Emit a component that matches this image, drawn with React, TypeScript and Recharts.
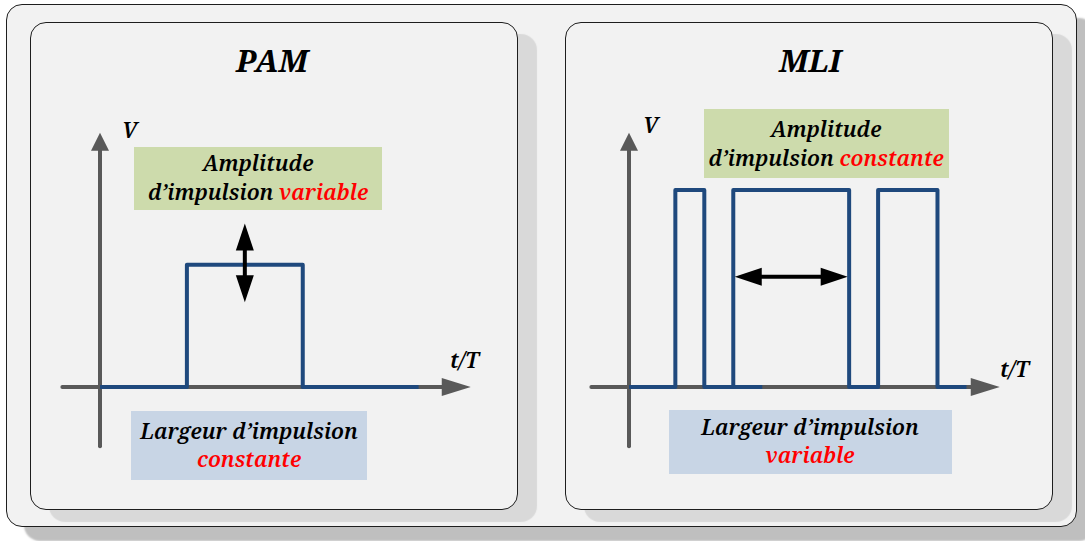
import React from "react"
import { LineChart, Line, XAxis, YAxis, ReferenceLine } from "recharts"

// PAM : une seule impulsion, amplitude variable
const pamEdges = [0, 0.3, 0.7, 1.1]
const pamLevels = [0, 0.62, 0, 0]

// MLI : trois impulsions, amplitude constante, largeur variable
const mliEdges = [0, 0.16, 0.26, 0.36, 0.76, 0.86, 1.065, 1.165]
const mliLevels = [0, 1, 0, 1, 0, 1, 0, 0]
// petit bout de ligne qui dépasse sur l'axe dans le dessin d'origine
const mliOverlapEdges = [0.26, 0.46]
const mliOverlapLevels = [0, 0]

const tDomain = [-0.145, 1.305]
const vDomain = [-0.35, 1.35]
const tAxisEnds = [-0.13, 1.28]
const vAxisEnds = [-0.3, 1.29]

// flèches noires (amplitude / largeur)
const pamArrowT = 0.5
const pamArrowV = [0.43, 0.83]
const mliArrowV = 0.56
const mliArrowT = [0.365, 0.755]

const BLUE = "#1F497D"
const GREY = "#595959"
const RED = "#FF0000"
const FONT = "'Noto Serif', 'DejaVu Serif', serif"
const LABEL = 21.5

const toRows = (ts: number[], vs: number[]) => ts.map((t, i) => ({ t, v: vs[i] }))

function arrowShape(color: string, width: number, len: number, half: number, both: boolean) {
  return (p: any) => {
    const { x1, y1, x2, y2 } = p
    const L = Math.hypot(x2 - x1, y2 - y1) || 1
    const ux = (x2 - x1) / L
    const uy = (y2 - y1) / L
    const head = (tx: number, ty: number, dx: number, dy: number) => {
      const bx = tx - dx * len
      const by = ty - dy * len
      return `${tx},${ty} ${bx - dy * half},${by + dx * half} ${bx + dy * half},${by - dx * half}`
    }
    const sx = both ? x1 + ux * (len - 1) : x1
    const sy = both ? y1 + uy * (len - 1) : y1
    return (
      <g>
        <line
          x1={sx}
          y1={sy}
          x2={x2 - ux * (len - 1)}
          y2={y2 - uy * (len - 1)}
          stroke={color}
          strokeWidth={width}
          strokeLinecap={both ? "butt" : "round"}
        />
        <polygon points={head(x2, y2, ux, uy)} fill={color} />
        {both && <polygon points={head(x1, y1, -ux, -uy)} fill={color} />}
      </g>
    )
  }
}

const xAxisShape = arrowShape(GREY, 4, 29, 9, false)
const yAxisShape = arrowShape(GREY, 4, 18, 9, false)
const blackArrow = arrowShape("#000", 4, 27, 9, true)

function PulsePlot({ left, kind }: { left: number; kind: "pam" | "mli" }) {
  const main = kind === "pam" ? toRows(pamEdges, pamLevels) : toRows(mliEdges, mliLevels)
  return (
    <div style={{ position: "absolute", left, top: 121 }}>
      <LineChart width={420} height={335} margin={{ top: 0, right: 0, bottom: 0, left: 0 }}>
        <XAxis type="number" dataKey="t" domain={tDomain} hide allowDataOverflow />
        <YAxis type="number" dataKey="v" domain={vDomain} hide allowDataOverflow />
        <ReferenceLine
          segment={[{ x: tAxisEnds[0], y: 0 }, { x: tAxisEnds[1], y: 0 }]}
          shape={xAxisShape}
        />
        <ReferenceLine
          segment={[{ x: 0, y: vAxisEnds[0] }, { x: 0, y: vAxisEnds[1] }]}
          shape={yAxisShape}
        />
        {kind === "mli" && (
          <Line
            data={toRows(mliOverlapEdges, mliOverlapLevels)}
            dataKey="v"
            type="linear"
            stroke={BLUE}
            strokeWidth={4}
            dot={false}
            isAnimationActive={false}
          />
        )}
        <Line
          data={main}
          dataKey="v"
          type="stepAfter"
          stroke={BLUE}
          strokeWidth={4}
          strokeLinejoin="round"
          dot={false}
          isAnimationActive={false}
        />
        {kind === "pam" ? (
          <ReferenceLine
            segment={[{ x: pamArrowT, y: pamArrowV[0] }, { x: pamArrowT, y: pamArrowV[1] }]}
            shape={blackArrow}
          />
        ) : (
          <ReferenceLine
            segment={[{ x: mliArrowT[0], y: mliArrowV }, { x: mliArrowT[1], y: mliArrowV }]}
            shape={blackArrow}
          />
        )}
      </LineChart>
    </div>
  )
}

const panelStyle = (left: number): React.CSSProperties => ({
  position: "absolute",
  left,
  top: 22,
  width: 488,
  height: 488,
  boxSizing: "border-box",
  border: "1.5px solid #1e1e1e",
  borderRadius: 16,
  background: "#F2F2F2",
  boxShadow: "19px 12px 1px #D9D9D9",
})

export default function App() {
  return (
    <div style={{ position: "absolute", left: 0, top: 0, width: 1085, height: 541, overflow: "hidden" }}>
      <div
        style={{
          position: "absolute",
          left: 6,
          top: 4,
          width: 1071,
          height: 523,
          boxSizing: "border-box",
          border: "1.5px solid #1e1e1e",
          borderRadius: 16,
          background: "#F2F2F2",
          boxShadow: "18px 14px 2px #BFBFBF",
        }}
      />
      <div style={panelStyle(30)} />
      <div style={panelStyle(565)} />

      <svg
        width={1085}
        height={541}
        style={{ position: "absolute", left: 0, top: 0, fontFamily: FONT, fontStyle: "italic", fontWeight: 600 }}
      >
        <rect x={134} y={147} width={248} height={63} fill="#CDDBAC" />
        <rect x={131} y={411} width={236} height={69} fill="#C8D5E5" />
        <rect x={704} y={109} width={245} height={69} fill="#CDDBAC" />
        <rect x={669} y={410} width={283} height={64} fill="#C8D5E5" />

        <g fill="#000">
          <text x={272} y={72} fontSize={31} fontWeight={700} textAnchor="middle">PAM</text>
          <text x={810} y={72} fontSize={31} fontWeight={700} textAnchor="middle">MLI</text>

          <text x={258} y={171} fontSize={LABEL} textAnchor="middle">Amplitude</text>
          <text x={258} y={200} fontSize={LABEL} textAnchor="middle">
            d’impulsion <tspan fill={RED}>variable</tspan>
          </text>
          <text x={249} y={439} fontSize={LABEL} textAnchor="middle">Largeur d’impulsion</text>
          <text x={249} y={467} fontSize={LABEL} textAnchor="middle" fill={RED}>constante</text>

          <text x={826} y={137} fontSize={LABEL} textAnchor="middle">Amplitude</text>
          <text x={826} y={166} fontSize={LABEL} textAnchor="middle">
            d’impulsion <tspan fill={RED}>constante</tspan>
          </text>
          <text x={810} y={435} fontSize={LABEL} textAnchor="middle">Largeur d’impulsion</text>
          <text x={810} y={463} fontSize={LABEL} textAnchor="middle" fill={RED}>variable</text>

          <text x={122} y={138} fontSize={22}>V</text>
          <text x={643} y={133} fontSize={22}>V</text>
          <text x={450} y={368} fontSize={22}>t/T</text>
          <text x={1000} y={377} fontSize={22}>t/T</text>
        </g>
      </svg>

      <PulsePlot left={58} kind="pam" />
      <PulsePlot left={587} kind="mli" />
    </div>
  )
}
